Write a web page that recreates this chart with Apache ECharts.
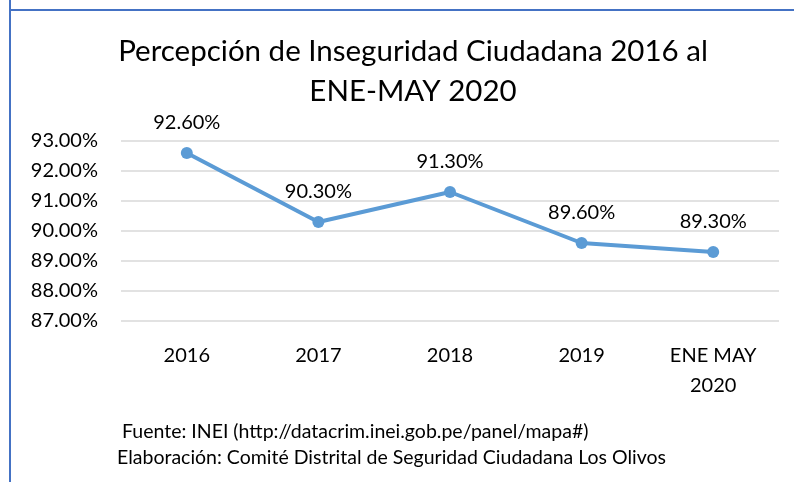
<!DOCTYPE html>
<html><head><meta charset="utf-8">
<script src="https://cdn.jsdelivr.net/npm/echarts@6/dist/echarts.min.js"></script>
<style>html,body{margin:0;padding:0;background:#fff}#c{width:794px;height:482px}</style>
</head><body><div id="c"></div>
<script>
const categories = ['2016', '2017', '2018', '2019', 'ENE MAY\n2020'];
const values = [92.6, 90.3, 91.3, 89.6, 89.3];
const titleText = 'Percepción de Inseguridad Ciudadana 2016 al\nENE-MAY 2020';
const sourceLine = 'Fuente: INEI (http://datacrim.inei.gob.pe/panel/mapa#)';
const creditLine = 'Elaboración: Comité Distrital de Seguridad Ciudadana Los Olivos';
const FONT = 'Lato, "Open Sans", sans-serif';

const chart = echarts.init(document.getElementById('c'));
chart.setOption({
  animation: false,
  backgroundColor: '#fff',
  title: [{
    text: titleText, left: 408, top: 26, textAlign: 'center',
    textStyle: {fontFamily: FONT, fontSize: 29.5, fontWeight: 'normal', color: '#000', lineHeight: 40}
  }],
  graphic: [
    {type: 'line', shape: {x1: 10, y1: 0, x2: 10, y2: 482}, style: {stroke: '#4472C4', lineWidth: 2}},
    {type: 'line', shape: {x1: 9, y1: 10, x2: 794, y2: 10}, style: {stroke: '#4472C4', lineWidth: 2}},
    {type: 'text', left: 122, top: 422, style: {text: sourceLine, font: '19.5px ' + FONT, fill: '#000'}},
    {type: 'text', left: 117, top: 448, style: {text: creditLine, font: '19.5px ' + FONT, fill: '#000'}}
  ],
  grid: {left: 121, right: 15, top: 141, bottom: 161},
  xAxis: {
    type: 'category', data: categories, boundaryGap: true,
    axisLine: {show: false}, axisTick: {show: false},
    axisLabel: {fontFamily: FONT, fontSize: 20, color: '#000', margin: 20, lineHeight: 30, interval: 0}
  },
  yAxis: {
    type: 'value', min: 87, max: 93, interval: 1,
    axisLine: {show: false}, axisTick: {show: false},
    splitLine: {lineStyle: {color: '#d9d9d9', width: 1.5}},
    axisLabel: {fontFamily: FONT, fontSize: 20, color: '#000', margin: 23,
      formatter: v => v.toFixed(2) + '%'}
  },
  series: [{
    type: 'line', data: values,
    lineStyle: {color: '#5B9BD5', width: 4},
    itemStyle: {color: '#5B9BD5'},
    symbol: 'circle', symbolSize: 12,
    label: {show: true, position: 'top', distance: 14, fontFamily: FONT, fontSize: 20, color: '#000',
      formatter: p => p.value.toFixed(2) + '%'}
  }]
});
</script></body></html>
